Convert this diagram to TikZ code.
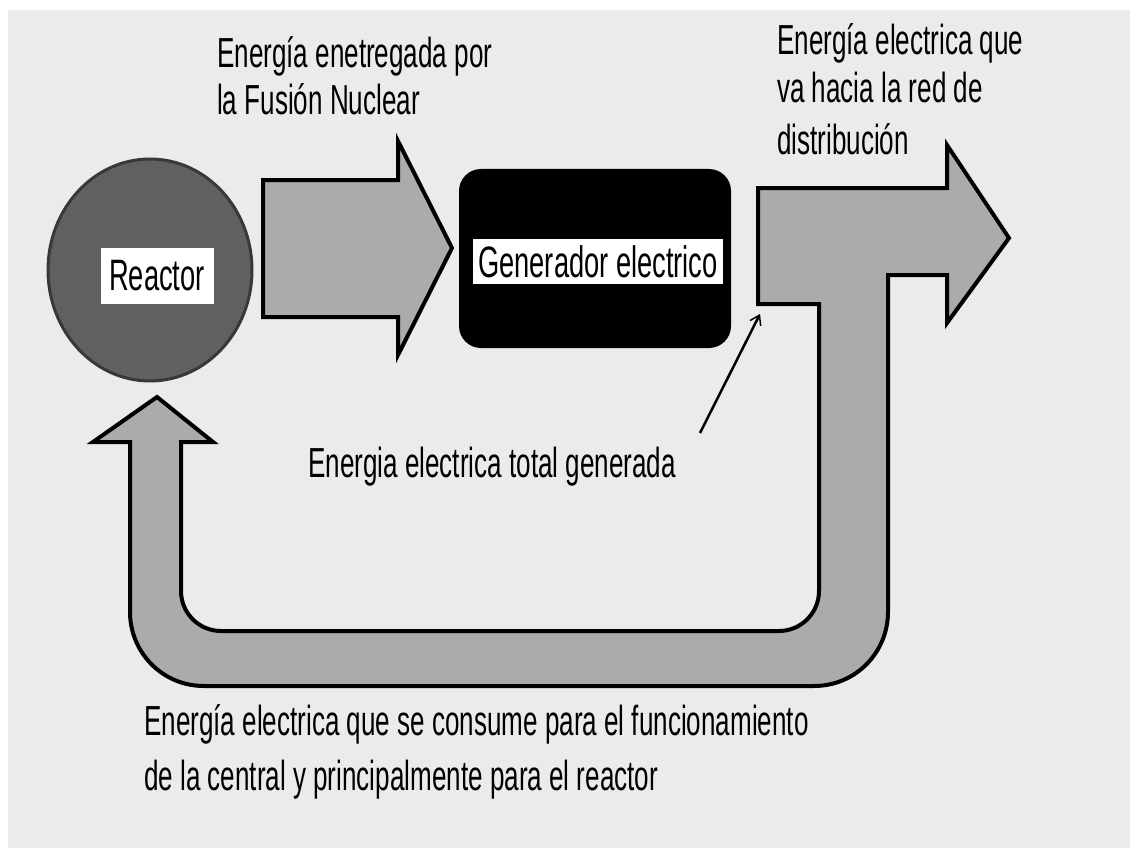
\documentclass[tikz,border=0pt]{standalone}
\usepackage{fontspec}
\newfontfamily\agency{Liberation Sans}[FakeStretch=0.62]
\usetikzlibrary{arrows.meta,shapes.geometric}
\definecolor{bg}{HTML}{EBEBEB}
\definecolor{arrowgray}{HTML}{ABABAB}
\definecolor{reactorgray}{HTML}{606060}
\definecolor{reactoredge}{HTML}{383838}
\begin{document}
\begin{tikzpicture}[x=1pt,y=-1pt,line join=miter,
  bigarrow/.style={draw=black,fill=arrowgray,line width=4pt},
  txt/.style={anchor=base west,inner sep=0pt,font=\agency\fontsize{42}{47}\selectfont},
  lbl/.style={fill=white,inner sep=0pt,font=\agency\fontsize{44}{48}\selectfont},
  pointer/.style={draw=black,line width=2.5pt,-{Straight Barb[length=9pt,width=12pt,line width=1.5pt]}}]
\useasboundingbox (0,0) rectangle (1130,848);
\fill[white] (0,0) rectangle (1130,848);
\fill[bg] (8,10) rectangle (1130,848);

% arrow from reactor to generator
\draw[bigarrow] (263,180) -- (398,180) -- (398,141) -- (452,248) -- (398,355) -- (398,317) -- (263,317) -- cycle;

% reactor
\node[ellipse,draw=reactoredge,fill=reactorgray,line width=3pt,minimum width=204pt,minimum height=222pt,inner sep=0pt] (reactor) at (150,270) {};
\node[lbl,minimum width=113pt,minimum height=56pt] (reactorlabel) at (157,276) {Reactor};

% generator
\node[fill=black,rounded corners=22pt,minimum width=272pt,minimum height=179pt,inner sep=0pt] (gen) at (595,258.5) {};
\node[lbl,minimum width=250pt,minimum height=45pt] (genlabel) at (598,261.5) {Generador electrico};

% T-shaped output arrow with feedback loop
\draw[bigarrow] (758,188) -- (947,188) -- (947,145) -- (1009,238) -- (947,323) -- (947,275) -- (888,275)
  -- (888,612) .. controls (888,652) and (856,686) .. (814,686)
  -- (204,686) .. controls (162,686) and (130,652) .. (130,612)
  -- (130,442) -- (93,442) -- (157,397) -- (213,442) -- (181,442)
  -- (181,591) .. controls (181,613) and (199,631) .. (221,631)
  -- (779,631) .. controls (801,631) and (819,613) .. (819,591)
  -- (819,304) -- (758,304) -- cycle;

% texts
\node[txt] (t1a) at (217,68) {Energía enetregada por};
\node[txt] (t1b) at (217,115) {la Fusión Nuclear};
\node[txt] (t2a) at (777,55) {Energía electrica que};
\node[txt] (t2b) at (777,103) {va hacia la red de};
\node[txt] (t2c) at (777,155) {distribución};
\node[txt] (t3) at (308,477) {Energia electrica total generada};
\node[txt] (t4a) at (144,735) {Energía electrica que se consume para el funcionamiento};
\node[txt] (t4b) at (144,790) {de la central y principalmente para el reactor};

% pointer
\coordinate (pstart) at (700,433);
\coordinate (pcorner) at (760,314);
\draw[pointer] (pstart) -- (pcorner);
\end{tikzpicture}
\end{document}
